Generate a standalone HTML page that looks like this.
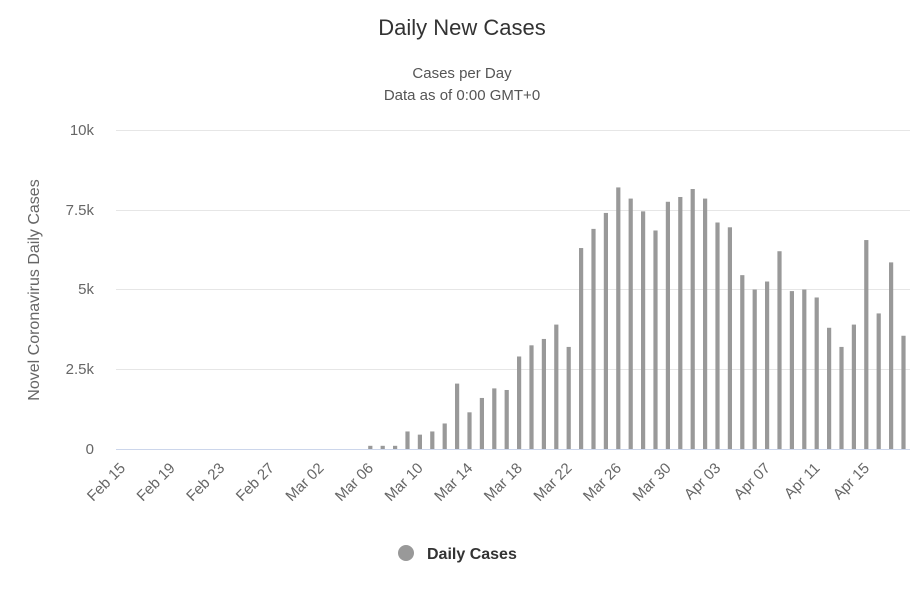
<!DOCTYPE html>
<html><head><meta charset="utf-8"><style>body{margin:0;background:#fff}svg{display:block;font-family:"Liberation Sans",sans-serif}</style></head>
<body>
<svg width="924" height="600" xmlns="http://www.w3.org/2000/svg">
<text x="462" y="35" text-anchor="middle" font-size="22" fill="#333">Daily New Cases</text>
<text x="462" y="78" text-anchor="middle" font-size="15" fill="#555">Cases per Day</text>
<text x="462" y="100" text-anchor="middle" font-size="15" fill="#555">Data as of 0:00 GMT+0</text>
<g stroke="#e6e6e6" stroke-width="1">
<line x1="116" x2="910" y1="130.5" y2="130.5"/><line x1="116" x2="910" y1="210.5" y2="210.5"/>
<line x1="116" x2="910" y1="289.5" y2="289.5"/><line x1="116" x2="910" y1="369.5" y2="369.5"/>
</g>
<line x1="116" x2="910" y1="449.5" y2="449.5" stroke="#ccd6eb"/>
<g font-size="15" fill="#666" text-anchor="end">
<text x="94" y="135">10k</text><text x="94" y="215">7.5k</text><text x="94" y="294">5k</text><text x="94" y="374">2.5k</text><text x="94" y="454">0</text>
</g>
<text transform="translate(39,290) rotate(-90)" text-anchor="middle" font-size="16" fill="#666">Novel Coronavirus Daily Cases</text>
<g id="bars" fill="#999"></g>
<g id="labels" font-size="15" fill="#666" text-anchor="end"></g>
<circle cx="406" cy="553" r="8" fill="#999"/>
<text x="427" y="559" font-size="16" font-weight="bold" fill="#333">Daily Cases</text>
<script>
var v=[100,100,100,550,450,550,800,2050,1150,1600,1900,1850,2900,3250,3450,3900,3200,6300,6900,7400,8200,7850,7450,6850,7750,7900,8150,7850,7100,6950,5450,5000,5250,6200,4950,5000,4750,3800,3200,3900,6550,4250,5850,3550];
var ns="http://www.w3.org/2000/svg",b=document.getElementById('bars'),l=document.getElementById('labels');
function X(d){return 122.2+d*12.4;}
v.forEach(function(val,i){var d=20+i,h=val*0.0319;var r=document.createElementNS(ns,'rect');r.setAttribute('x',X(d)-2);r.setAttribute('width',4.2);r.setAttribute('y',449-h);r.setAttribute('height',h);b.appendChild(r);});
var labs=["Feb 15","Feb 19","Feb 23","Feb 27","Mar 02","Mar 06","Mar 10","Mar 14","Mar 18","Mar 22","Mar 26","Mar 30","Apr 03","Apr 07","Apr 11","Apr 15"];
labs.forEach(function(t,i){var x=X(i*4)+4,y=469;var e=document.createElementNS(ns,'text');e.setAttribute('transform','translate('+x+','+y+') rotate(-45)');e.textContent=t;l.appendChild(e);});
</script>
</svg>
</body></html>
